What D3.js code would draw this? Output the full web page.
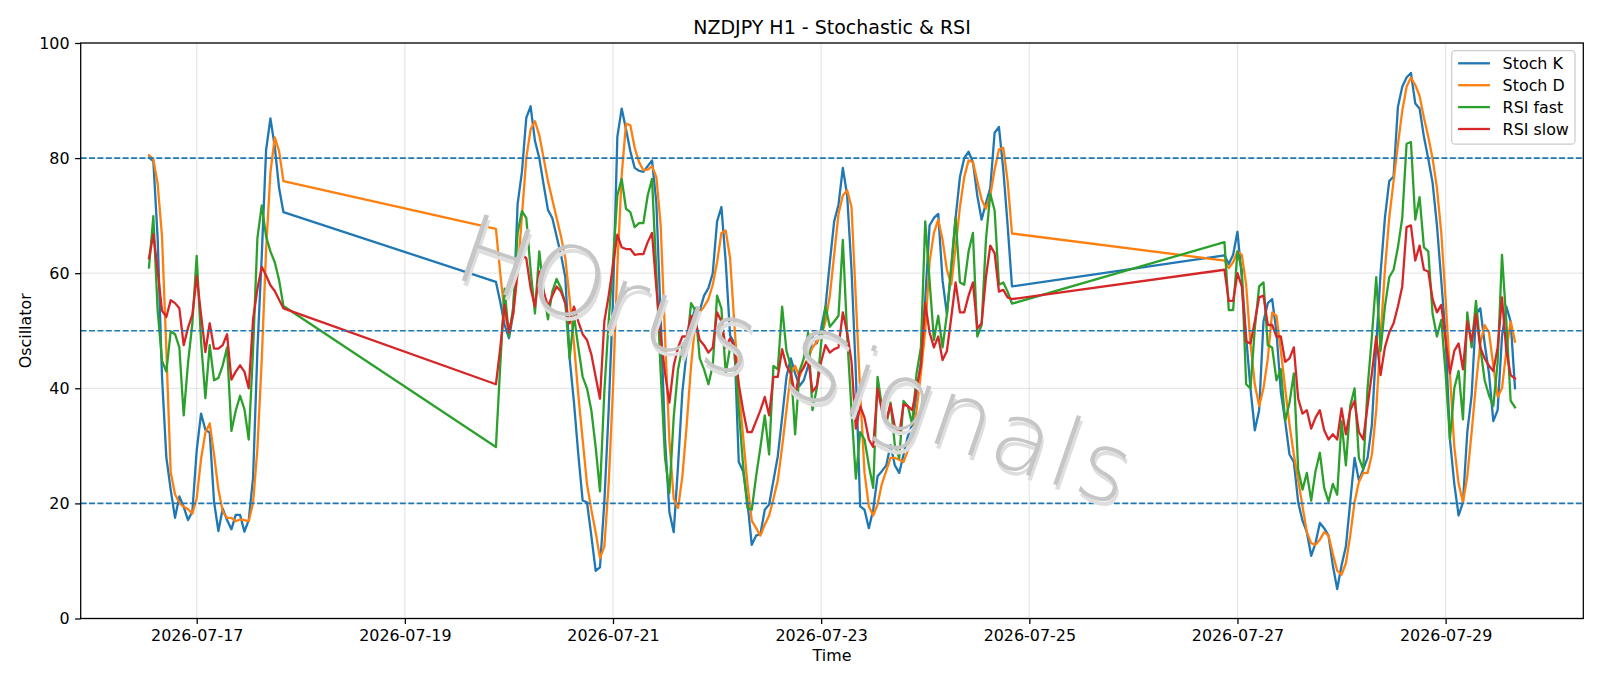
<!DOCTYPE html>
<html>
<head>
<meta charset="utf-8">
<script src="https://cdn.jsdelivr.net/npm/d3@7"></script>
<style>
  html, body { margin: 0; padding: 0; background: #fff; overflow: hidden; }
  svg { display: block; }
  svg text { font-family: "DejaVu Sans", sans-serif; fill: #000; }
</style>
</head>
<body>
<svg id="chart"></svg>
<script>
// trading sessions: first hour and number of hourly bars
const sessions = [['2026-07-16T13:00:00Z', 32], ['2026-07-19T21:00:00Z', 120], ['2026-07-26T21:00:00Z', 68]];

const stochK = [
  80.1, 79.5, 66, 42, 28, 22.4, 17.5, 21.2, 19.4, 17.1, 18.6, 29.2, 35.6, 32.8, 32.3, 20.3,
  15.2, 19.1, 17.1, 15.5, 18.0, 18.0, 15.1, 17.1, 24.5, 46.7, 63.0, 81.4, 86.9, 82.0, 74.8, 70.6,
  58.5, 55, 51, 48.7, 53, 72, 77.6, 87, 89, 83,
  80, 75.4, 71, 69.6, 66.4, 63.2, 59.3, 45.2, 37.5, 28.5,
  20.5, 20.2, 14.4, 8.3, 8.9, 20.2, 36.2, 55.5, 83.7, 88.6,
  85, 81.2, 78.3, 77.8, 77.6, 78.6, 79.6, 72.2, 52.3, 31.1,
  18.5, 15, 26.6, 39.4, 46.5, 51.6, 53.9, 53.5, 56.1, 57.4,
  60, 69, 71.5, 61.9, 49.2, 47.8, 27.2, 25.6, 20.2, 12.8,
  14.4, 14.7, 18.9, 19.8, 24, 28.2, 34.9, 42, 45.2, 42.6,
  40.4, 41.4, 43.9, 49, 47.8, 50.4, 54.2, 61.9, 69, 71.9,
  78.3, 73.5, 60.6, 42.6, 19.5, 18.9, 15.7, 18.9, 24.7, 25.6,
  26.6, 30.1, 26.6, 25.3, 28.5, 31.7, 33.7, 38.8, 44.6, 55.5,
  68.3, 69.6, 70.3, 58.7, 52.9, 60.6, 69.6, 76.7, 80, 81.1,
  79.3, 73.5, 69.3, 72.2, 74.8, 84.4, 85.4, 78, 68.3, 57.7,
  63.1, 61.6, 63.2, 67.2, 59.3, 49, 40, 32.7, 36.2, 51.6,
  54.8, 55.5, 49.7, 39.4, 34.3, 28.5, 27.2, 20.2, 17, 15,
  10.9, 13.1, 16.6, 15.7, 14.4, 9.2, 5.1, 9.2, 12.5, 20.2,
  27.9, 24, 25.9, 27.9, 33.7, 47.5, 60, 69.6, 76, 76.8,
  88.9, 92.4, 94, 94.8, 89.5, 88.6, 83.7, 79.9, 75.7, 68.3,
  58.7, 49, 31.1, 23.4, 17.9, 20.2, 32.4, 38.8, 52.9, 53.9,
  47.8, 42.6, 34.3, 36.2, 49, 54.2, 51.6, 40
];

const stochD = [
  80.5, 79.8, 75.5, 66.4, 46.7, 25.4, 21.6, 20.1, 19.4, 19.0, 18.2, 20.9, 27.7, 32.3, 33.9, 28.5,
  22.4, 18.6, 17.5, 17.5, 16.9, 17.2, 17.1, 16.9, 20.1, 29.5, 45.0, 64.0, 77.5, 83.6, 81.2, 76.0,
  67.7, 60, 53, 50, 53, 60, 70, 80, 85, 86.4,
  84, 80, 76, 72.8, 69.6, 66.4, 62.6, 55.5, 47.8, 38.8,
  31.1, 23.4, 18.9, 15, 10.5, 12.5, 23.4, 40, 61, 77,
  86, 85.7, 81.8, 79.3, 77.9, 78, 78.6, 76.7, 68.3, 49,
  31, 20.8, 19.2, 24.7, 33.7, 43.9, 51.6, 53.2, 54.2, 55.5,
  58, 61.9, 67, 67.4, 62.6, 51, 40, 31.7, 23.4, 17,
  15.7, 14.4, 16.3, 17.9, 20.8, 24, 29.8, 36.2, 42.6, 43.9,
  42, 43.9, 45.2, 47.1, 48.1, 49, 51.6, 56.1, 63.2, 70.3,
  73.5, 74.4, 71.5, 55.5, 39.4, 25.3, 19.5, 17.9, 19.8, 23.4,
  25.6, 27.9, 27.9, 27.6, 27.2, 29.2, 31.7, 36.2, 42.6, 50,
  62, 67, 69.3, 65.8, 60.6, 58, 64.5, 71.5, 76.7, 79.6,
  79.3, 76, 72.8, 71.2, 73.5, 78, 81.5, 81.8, 76, 66.9,
  62.2, 60.9, 61.9, 63.8, 63.2, 58, 47.8, 40.7, 36.9, 40,
  45.2, 53.2, 52.6, 46.5, 40, 33.7, 28.5, 24, 19.5, 15,
  13.1, 12.8, 13.7, 15, 14.4, 11.2, 8.3, 7.6, 9.6, 14.4,
  20.2, 23.7, 25.3, 25.3, 28.5, 36.2, 49, 60.6, 69.6, 76,
  82.3, 88.2, 92.4, 94, 92.7, 90.8, 87, 83.7, 79.9, 74.8,
  67, 55.5, 42.6, 29.8, 23.4, 20.2, 24.7, 32.4, 40.7, 47.8,
  51, 49.7, 43.9, 38.5, 40, 46.5, 51.6, 48.1
];

const rsiFast = [
  61.0, 69.9, 53.5, 44.8, 42.9, 49.9, 49.4, 47.1, 35.3, 44.4, 51.3, 63.0, 48.2, 38.3, 47.5, 41.4,
  41.8, 44.0, 47.1, 32.6, 36.1, 38.7, 36.4, 31.1, 46.7, 66.1, 71.8, 66.4, 63.8, 61.9, 58.8, 54.3,
  29.8, 44, 57.3, 49, 54.2, 67, 70.8, 69.6, 60.6, 53,
  63.8, 56.8, 52, 56.8, 59, 57.4, 54.8, 45.2, 52.6, 47.1,
  42, 40, 36.2, 29.8, 22.1, 39.4, 51.6, 61.9, 73.5, 76.4,
  71.2, 70.6, 68, 68.7, 68.7, 73.5, 76.4, 60, 42.6, 27.9,
  21.8, 35, 43.3, 47.1, 47.1, 54.8, 53.5, 45.2, 43.3, 40.7,
  43.9, 56.1, 53.9, 42.6, 47.1, 46.2, 36.2, 26.6, 19.2, 18.9,
  24.7, 29.8, 35.3, 28.5, 43.9, 43.3, 54.2, 46.5, 43.9, 32,
  43, 45.2, 49.7, 36.2, 40, 47.8, 54.2, 50.7, 51.6, 52.6,
  65.8, 49, 36.2, 24.3, 32.4, 31.1, 26.6, 22.7, 42, 36.9,
  33.7, 37.5, 30.1, 27.9, 37.8, 36.9, 33.7, 42.6, 47.1, 69,
  58.7, 48.4, 52.6, 47.1, 52.9, 61.3, 69.6, 58.4, 58, 63.8,
  67, 49, 51, 65.8, 73.8, 70.9, 58, 58.4, 56.8, 54.7,
  65.4, 53.6, 53.6, 63.8, 60.6, 40.7, 40, 50.4, 57.7, 58.4,
  47.5, 47.1, 41.4, 43.3, 34.3, 37.5, 42.6, 25.9, 22.4, 25.3,
  20.5, 25.6, 28.8, 22.7, 20.3, 23.4, 21.5, 34.3, 26.6, 36.9,
  40, 27.9, 25.9, 40, 49, 59.3, 46.5, 54.2, 59.3, 60.6,
  64.5, 69.6, 82.5, 82.8, 69.3, 73.2, 64.5, 63.8, 52.9, 49,
  51.9, 42.6, 31.1, 40, 43, 34.6, 53.2, 47.1, 55.2, 47.1,
  41.4, 38.8, 36.9, 44.6, 63.2, 51.6, 37.8, 36.7
];

const rsiSlow = [
  62.6, 66.8, 60.4, 53.5, 52.4, 55.3, 54.8, 53.9, 47.5, 50.5, 52.8, 59.5, 52.8, 46.3, 51.3, 46.9,
  46.9, 47.5, 49.4, 41.5, 42.9, 44.0, 42.9, 40.0, 52.0, 57.3, 61.1, 59.6, 57.9, 56.9, 55.4, 53.9,
  40.7, 47, 54.5, 49.7, 53.2, 60.6, 63.2, 62.6, 57.4, 54.2,
  60.3, 56.8, 54.2, 56.1, 57.7, 56.8, 54.8, 51.3, 54.2, 51.6,
  49.4, 48.4, 45.9, 42, 38.2, 51.6, 56.1, 61.3, 66.7, 64.5,
  64.2, 64.2, 63.2, 63.3, 63.3, 65.4, 67, 57.4, 49, 42.6,
  37.5, 43.9, 47.1, 49, 49, 52.6, 51.6, 48.4, 47.5, 46.2,
  47.1, 53.2, 51.6, 47.1, 48.7, 47.1, 40.7, 36.2, 32.4, 32.4,
  34.3, 36.2, 38.5, 35.3, 42, 42, 46.8, 43.9, 42.6, 38.8,
  42.6, 43.6, 45.2, 39.4, 40.4, 44.6, 47.5, 46.2, 46.8, 47.1,
  53.2, 49.7, 44.6, 33, 36.9, 34.9, 31.1, 29.8, 40, 36.2,
  34.3, 37.2, 33.3, 32, 37.2, 36.9, 36.2, 40, 43.9, 54.8,
  49.7, 47.1, 49, 44.9, 46.5, 52.3, 58.4, 53.2, 53.2, 56.1,
  58.4, 50.4, 51.3, 59.3, 64.8, 63.5, 56.8, 57.1, 55.8, 55.5,
  60.6, 55.2, 55.2, 60, 57.7, 48.1, 47.8, 51.6, 55.8, 56.1,
  51, 51, 49, 49, 44.6, 45.2, 47.1, 38.2, 35.6, 36.2,
  33, 34.9, 36.2, 32.7, 31.1, 32, 31.1, 36.5, 32, 36.2,
  37.8, 32.4, 31.1, 36.9, 42.6, 49, 42.3, 47.1, 49.7, 51.3,
  54.2, 57.7, 68, 68.3, 62.2, 64.8, 60.6, 60.3, 55.5, 53.2,
  54.5, 48.4, 42.6, 46.5, 47.8, 43.3, 51.6, 48.1, 52.9, 47.1,
  45.2, 43.9, 43, 47.1, 55.8, 46.5, 42.3, 41.7
];

const seriesNames = ['Stoch K', 'Stoch D', 'RSI fast', 'RSI slow'];
const seriesColors = ['#1f77b4', '#ff7f0e', '#2ca02c', '#d62728'];
const levels = [80, 50, 20];
const xTickLabels = ['2026-07-17', '2026-07-19', '2026-07-21', '2026-07-23', '2026-07-25', '2026-07-27', '2026-07-29'];
const yTicks = [0, 20, 40, 60, 80, 100];

const width = 1600;
const height = 686;
const margin = { left: 80.7, right: 16.7, top: 43, bottom: 67.5 };
const innerWidth = width - margin.left - margin.right;
const innerHeight = height - margin.top - margin.bottom;
const fs = 15.9;

// hourly timestamps, weekends skipped
const times = [];
sessions.forEach(function(s) {
  const t0 = new Date(s[0]);
  for (let i = 0; i < s[1]; i++) times.push(d3.utcHour.offset(t0, i));
});

const svg = d3.select('#chart').attr('width', width).attr('height', height);

const ext = d3.extent(times);
const pad = (ext[1] - ext[0]) * 0.05;
const x = d3.scaleUtc()
  .domain([new Date(+ext[0] - pad), new Date(+ext[1] + pad)])
  .range([0, innerWidth]);
const y = d3.scaleLinear().domain([0, 100]).range([innerHeight, 0]);

const g = svg.append('g').attr('transform', 'translate(' + margin.left + ',' + margin.top + ')');

// grid
const tickDates = xTickLabels.map(function(d) { return new Date(d + 'T00:00:00Z'); });
g.append('g').selectAll('line').data(tickDates).enter().append('line')
  .attr('x1', function(d) { return x(d); }).attr('x2', function(d) { return x(d); })
  .attr('y1', 0).attr('y2', innerHeight)
  .attr('stroke', '#b0b0b0').attr('stroke-opacity', 0.3).attr('stroke-width', 1.27);
g.append('g').selectAll('line').data(yTicks).enter().append('line')
  .attr('x1', 0).attr('x2', innerWidth)
  .attr('y1', function(d) { return y(d); }).attr('y2', function(d) { return y(d); })
  .attr('stroke', '#b0b0b0').attr('stroke-opacity', 0.3).attr('stroke-width', 1.27);

// watermark, under the lines
const wm = svg.append('g').attr('transform', 'translate(786,392) rotate(19)');
[[3, 4, '#dedede'], [0, 0, '#c6c6c6']].forEach(function(s) {
  wm.append('text')
    .attr('x', s[0]).attr('y', s[1])
    .attr('text-anchor', 'middle')
    .style('font-family', '"DejaVu Sans", sans-serif')
    .style('font-weight', 200)
    .style('font-size', '96px')
    .style('letter-spacing', '3px')
    .style('fill', s[2])
    .text('HOrus Signals');
});

// series
const allSeries = [stochK, stochD, rsiFast, rsiSlow];
const line = d3.line()
  .x(function(d, i) { return x(times[i]); })
  .y(function(d) { return y(d); });

allSeries.forEach(function(vals, i) {
  g.append('path')
    .attr('d', line(vals))
    .attr('fill', 'none')
    .attr('stroke', seriesColors[i])
    .attr('stroke-width', 2.3)
    .attr('stroke-linejoin', 'round')
    .attr('stroke-linecap', 'square');
});

// threshold lines
g.append('g').selectAll('line').data(levels).enter().append('line')
  .attr('x1', 0).attr('x2', innerWidth)
  .attr('y1', function(d) { return y(d); }).attr('y2', function(d) { return y(d); })
  .attr('stroke', '#1f77b4').attr('stroke-width', 1.6)
  .attr('stroke-dasharray', '5.9,2.5');

// axes
const xAxis = d3.axisBottom(x).tickValues(tickDates).tickFormat(d3.utcFormat('%Y-%m-%d'))
  .tickSize(5.6).tickPadding(5.6);
const yAxis = d3.axisLeft(y).tickValues(yTicks).tickSize(5.6).tickPadding(5.6);

const gx = g.append('g').attr('transform', 'translate(0,' + innerHeight + ')').call(xAxis);
const gy = g.append('g').call(yAxis);
[gx, gy].forEach(function(a) {
  a.select('.domain').remove();
  a.attr('font-size', null).attr('font-family', null);
  a.selectAll('.tick line').attr('stroke', '#000').attr('stroke-width', 1.27);
  a.selectAll('.tick text').style('font-size', fs + 'px').attr('fill', '#000');
});

g.append('rect')
  .attr('width', innerWidth).attr('height', innerHeight)
  .attr('fill', 'none').attr('stroke', '#000').attr('stroke-width', 1.27);

// titles
svg.append('text')
  .attr('x', margin.left + innerWidth / 2).attr('y', 33.5)
  .attr('text-anchor', 'middle')
  .style('font-size', '19px')
  .text('NZDJPY H1 - Stochastic & RSI');
svg.append('text')
  .attr('x', margin.left + innerWidth / 2).attr('y', 661)
  .attr('text-anchor', 'middle')
  .style('font-size', fs + 'px')
  .text('Time');
svg.append('text')
  .attr('transform', 'translate(30.5,' + (margin.top + innerHeight / 2) + ') rotate(-90)')
  .attr('text-anchor', 'middle')
  .style('font-size', fs + 'px')
  .text('Oscillator');

// legend
const legend = svg.append('g').attr('transform', 'translate(1451.7,50.7)');
legend.append('rect')
  .attr('width', 123.3).attr('height', 93.5).attr('rx', 3.5)
  .attr('fill', '#fff').attr('fill-opacity', 0.8)
  .attr('stroke', '#cccccc').attr('stroke-width', 1.27);
const item = legend.selectAll('g.item').data(seriesNames).enter().append('g')
  .attr('class', 'item')
  .attr('transform', function(d, i) { return 'translate(0,' + (12.6 + i * 21.9) + ')'; });
item.append('line')
  .attr('x1', 6.4).attr('x2', 38.2)
  .attr('stroke', function(d, i) { return seriesColors[i]; })
  .attr('stroke-width', 2.3);
item.append('text')
  .attr('x', 50.9).attr('y', 5.7)
  .style('font-size', fs + 'px')
  .text(function(d) { return d; });
</script>
</body>
</html>
